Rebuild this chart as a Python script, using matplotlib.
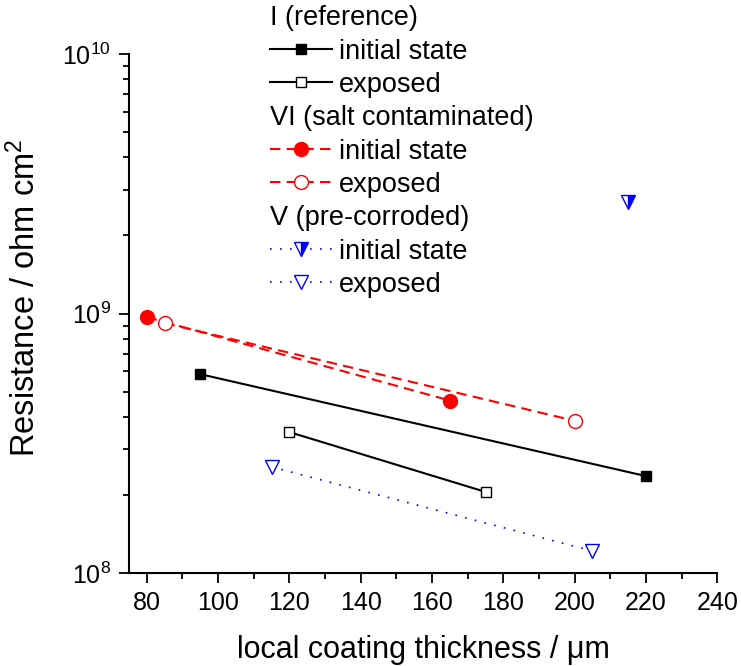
import matplotlib

matplotlib.use("Agg")
import matplotlib.pyplot as plt
from matplotlib.lines import Line2D

plt.rcParams["font.family"] = ["Liberation Sans", "DejaVu Sans"]
plt.rcParams["mathtext.fontset"] = "custom"
plt.rcParams["mathtext.rm"] = "Liberation Sans"
plt.rcParams["mathtext.it"] = "Liberation Sans:italic"

# data (thickness in µm, resistance in ohm cm^2)
ref_init_x = [95, 220]
ref_init_y = [5.85e8, 2.37e8]
ref_exp_x = [120, 175]
ref_exp_y = [3.5e8, 2.06e8]
salt_init_x = [80, 165]
salt_init_y = [9.7e8, 4.63e8]
salt_exp_x = [85, 200]
salt_exp_y = [9.2e8, 3.87e8]
corr_init_x = [215]
corr_init_y = [2.7e9]
corr_exp_x = [115, 205]
corr_exp_y = [2.57e8, 1.22e8]

x_ticks = [80, 100, 120, 140, 160, 180, 200, 220, 240]

fig = plt.figure(figsize=(7.41, 6.66), dpi=100)
ax = fig.add_axes([0.174, 0.139, 0.794, 0.780])

ax.plot(ref_init_x, ref_init_y, color="black", lw=1.5, marker="s", ms=7,
        mfc="black", mec="black", label="initial state")
ax.plot(ref_exp_x, ref_exp_y, color="black", lw=1.5, marker="s", ms=7,
        mfc="white", mec="black", mew=1.0, label="exposed")
ax.plot(salt_init_x, salt_init_y, color="red", lw=1.5, ls=(0, (5, 3)),
        marker="o", ms=10, mfc="red", mec="red", label="initial state")
ax.plot(salt_exp_x, salt_exp_y, color="red", lw=1.5, ls=(0, (5, 3)),
        marker="o", ms=10, mfc="white", mec="red", mew=1.0, label="exposed")
ax.plot(corr_init_x, corr_init_y, color="blue", lw=1.2, ls=(0, (1, 5)),
        marker="v", ms=10, fillstyle="right", mfc="blue", mfcalt="white",
        mec="blue", mew=1.0, label="initial state")
ax.plot(corr_exp_x, corr_exp_y, color="blue", lw=1.2, ls=(0, (1, 5)),
        marker="v", ms=10, mfc="white", mec="blue", mew=1.0, label="exposed")

ax.set_yscale("log")
ax.set_xlim(75, 240)
ax.set_ylim(1e8, 1e10)
ax.set_xticks(x_ticks)
ax.set_xticks(range(90, 240, 20), minor=True)
ax.tick_params(axis="both", which="major", direction="out", length=7,
               width=1.3, labelsize=18, pad=6)
ax.tick_params(axis="both", which="minor", direction="out", length=4, width=1.3)
for side in ("top", "right"):
    ax.spines[side].set_visible(False)
for side in ("left", "bottom"):
    ax.spines[side].set_linewidth(1.5)

ax.set_xlabel("local coating thickness / μm", fontsize=22, labelpad=14)
ax.set_ylabel("Resistance / ohm cm$^2$", fontsize=23.5)
ax.yaxis.set_label_coords(-0.147, 0.53)

# legend with group headers (no handle) above the plot
lines = ax.get_lines()
blank = Line2D([], [], alpha=0)
handles = [blank, lines[0], lines[1], blank, lines[2], lines[3],
           blank, lines[4], lines[5]]
labels = ["I (reference)", "initial state", "exposed",
          "VI (salt contaminated)", "initial state", "exposed",
          "V (pre-corroded)", "initial state", "exposed"]
leg = fig.legend(handles, labels, loc="upper left",
                 bbox_to_anchor=(0.364, 0.992), frameon=False, fontsize=19.5,
                 handlelength=2.3, handletextpad=0.26, labelspacing=0.27,
                 borderpad=0, borderaxespad=0)
column = leg._legend_handle_box.get_children()[0]
for row, lab in zip(column.get_children(), labels):
    if lab not in ("initial state", "exposed"):
        row.get_children()[0].width = 0
        row.sep = 0

fig.savefig("out.png", dpi=100, facecolor="white")
